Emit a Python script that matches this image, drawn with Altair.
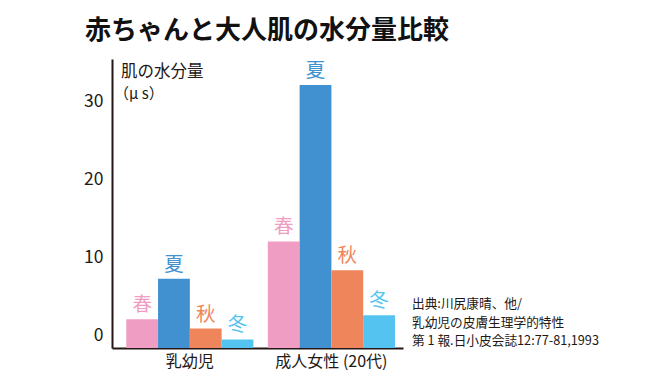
import altair as alt
import pandas as pd

groups = ["乳幼児", "成人女性 (20代)"]
seasons = ["春", "夏", "秋", "冬"]
colors = ["#ef9dc2", "#4191d1", "#ef855b", "#54c3ef"]
infant_values = [3.7, 8.9, 2.5, 1.1]
adult_values = [13.7, 33.8, 10.0, 4.2]
y_ticks = [0, 10, 20, 30]
title_text = "赤ちゃんと大人肌の水分量比較"
y_title_lines = ["肌の水分量", "（μ s）"]
source_lines = ["出典:川尻康晴、他/", "乳幼児の皮膚生理学的特性", "第 1 報.日小皮会誌12:77-81,1993"]

rows = []
for g, vals in zip(groups, [infant_values, adult_values]):
    for s, v in zip(seasons, vals):
        rows.append({"group": g, "season": s, "value": v})
df = pd.DataFrame(rows)

FONT = "Noto Sans CJK JP"
INK = "#231815"

x_enc = alt.X(
    "group:N",
    sort=groups,
    scale=alt.Scale(paddingInner=0.1016, paddingOuter=0.0787, align=0.64),
    axis=alt.Axis(
        title=None, labelAngle=0, ticks=False, labelPadding=5,
        labelFontSize=16, labelFont=FONT, labelColor=INK,
        domainColor=INK, domainWidth=2, grid=False,
    ),
)
xoff = alt.XOffset("season:N", sort=seasons, scale=alt.Scale(paddingInner=0, paddingOuter=0))
y_scale = alt.Scale(domain=[0, 37.15], nice=False, zero=True)
color_enc = alt.Color("season:N", sort=seasons,
                      scale=alt.Scale(domain=seasons, range=colors), legend=None)

bars = alt.Chart(df).mark_bar(stroke=None).encode(
    x=x_enc,
    xOffset=xoff,
    y=alt.Y("value:Q", scale=y_scale,
            axis=alt.Axis(values=y_ticks, title=None, ticks=False, grid=False,
                          labelOffset=-13, labelPadding=9, labelFontSize=17.5,
                          labelFont=FONT, labelColor=INK,
                          domainColor=INK, domainWidth=2)),
    color=color_enc,
)

labels = alt.Chart(df).mark_text(
    font=FONT, fontSize=19.5, baseline="middle", align="center", dy=-14
).encode(
    x=alt.X("group:N", sort=groups),
    xOffset=alt.XOffset("season:N", sort=seasons),
    y=alt.Y("value:Q"),
    text="season:N",
    color=color_enc,
)

ann = alt.Chart(pd.DataFrame({"k": [0]}))

ytitle1 = ann.mark_text(text=y_title_lines[0], font=FONT, fontSize=16.5, align="left",
                        baseline="middle", color=INK).encode(
    x=alt.value(9), y=alt.value(13))
ytitle2 = ann.mark_text(text=y_title_lines[1], font=FONT, fontSize=15, align="left",
                        baseline="middle", color=INK).encode(
    x=alt.value(2), y=alt.value(34.5))

source_layers = []
for i, line in enumerate(source_lines):
    source_layers.append(
        ann.mark_text(text=line, font=FONT, fontSize=12.7, align="left",
                      baseline="middle", color=INK).encode(
            x=alt.value(300), y=alt.value(245 + 18.5 * i))
    )

chart = alt.layer(bars, labels, ytitle1, ytitle2, *source_layers).properties(
    width=291,
    height=289,
    title=alt.TitleParams(title_text, anchor="start", frame="group", dx=-27, offset=15,
                          fontSize=26, fontWeight="bold", font=FONT, color="#111111"),
    autosize=alt.AutoSizeParams(type="none"),
    padding={"left": 104, "top": 51, "right": 249, "bottom": 23},
).configure(background="white").configure_view(stroke=None, strokeWidth=0)

chart.save("out.html", embed_options={"renderer": "svg", "actions": False})
